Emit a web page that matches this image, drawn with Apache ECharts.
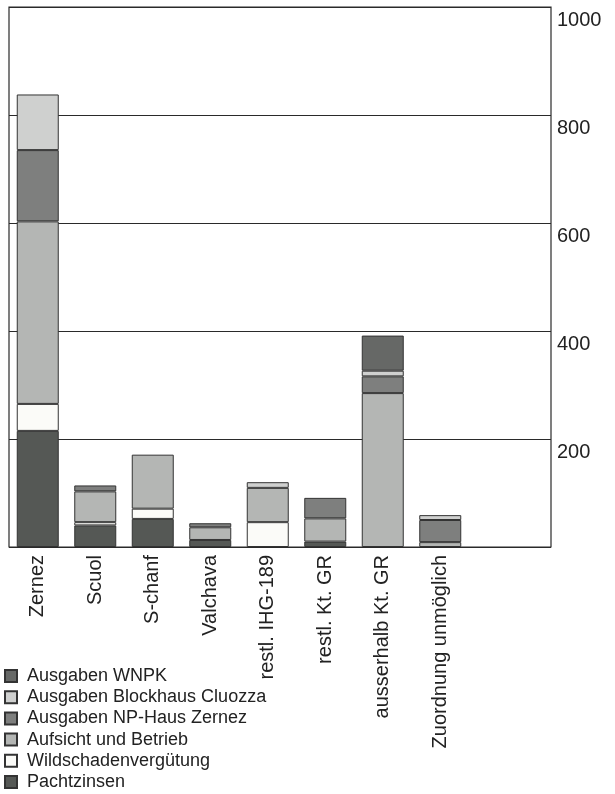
<!DOCTYPE html>
<html>
<head>
<meta charset="utf-8">
<script src="https://cdn.jsdelivr.net/npm/echarts@6/dist/echarts.min.js"></script>
<style>
html,body{margin:0;padding:0;background:#fff;}
#c{width:615px;height:794px;}
</style>
</head>
<body>
<div id="c"></div>
<script>
const categories = ['Zernez','Scuol','S-chanf','Valchava','restl. IHG-189','restl. Kt. GR','ausserhalb Kt. GR','Zuordnung unmöglich'];
const pachtzinsen = [215, 40, 52, 13, 0, 10, 0, 0];
const wildschaden = [50, 6, 19, 0, 46, 0, 0, 0];
const aufsicht = [338, 57, 100, 23.5, 63.5, 43, 285, 9];
const npHaus = [132, 11, 0, 7.5, 0, 38, 31, 41];
const blockhaus = [103, 0, 0, 0, 10.5, 0, 10.5, 9];
const wnpk = [0, 0, 0, 0, 0, 0, 65, 0];
const yTicks = [200, 400, 600, 800, 1000];

const seriesDefs = [
  {name:'Pachtzinsen', data:pachtzinsen, color:'#555855'},
  {name:'Wildschadenvergütung', data:wildschaden, color:'#fbfbf8'},
  {name:'Aufsicht und Betrieb', data:aufsicht, color:'#b4b6b4'},
  {name:'Ausgaben NP-Haus Zernez', data:npHaus, color:'#7e7f7e'},
  {name:'Ausgaben Blockhaus Cluozza', data:blockhaus, color:'#cfd0cf'},
  {name:'Ausgaben WNPK', data:wnpk, color:'#666866'}
];
const legendOrder = ['Ausgaben WNPK','Ausgaben Blockhaus Cluozza','Ausgaben NP-Haus Zernez','Aufsicht und Betrieb','Wildschadenvergütung','Pachtzinsen'];

const font = '"Liberation Sans", Arial, Helvetica, sans-serif';
const chart = echarts.init(document.getElementById('c'), null, {renderer:'canvas'});
chart.setOption({
  animation:false,
  backgroundColor:'#fff',
  grid:[
    {left:9, right:64, top:7, bottom:247, show:true, borderColor:'#2a2a2a', borderWidth:1.2, backgroundColor:'transparent'},
    {left:9, width:460, top:7, bottom:247}
  ],
  legend:{
    orient:'vertical', left:4, top:667, height:127, padding:0, itemWidth:12, itemHeight:12, itemGap:3.2,
    icon:'rect',
    data:legendOrder,
    textStyle:{fontFamily:font, fontSize:18, color:'#222', padding:[0,0,0,5]}
  },
  xAxis:[
    {type:'value', gridIndex:0, min:0, max:1, show:false},
    {type:'category', gridIndex:1, data:categories,
      axisLine:{show:false}, axisTick:{show:false},
      axisLabel:{rotate:90, margin:8, fontFamily:font, fontSize:20, color:'#222', interval:0}}
  ],
  yAxis:[
    {type:'value', gridIndex:0, position:'right', min:0, max:1000, interval:200,
      axisLine:{show:false}, axisTick:{show:false},
      splitLine:{show:true, lineStyle:{color:'#2a2a2a', width:1}},
      axisLabel:{margin:6, fontFamily:font, fontSize:20, color:'#222', verticalAlign:'top', padding:[3,0,0,0],
        formatter:v => yTicks.includes(v) ? String(v) : ''}},
    {type:'value', gridIndex:1, min:0, max:1000, show:false}
  ],
  series: seriesDefs.map(s => ({
    type:'bar', name:s.name, stack:'total', xAxisIndex:1, yAxisIndex:1,
    barWidth:42,
    data:s.data.map(v => v === 0 ? '-' : v),
    itemStyle:{color:s.color, borderColor:'#333', borderWidth:1}
  }))
});
</script>
</body>
</html>
